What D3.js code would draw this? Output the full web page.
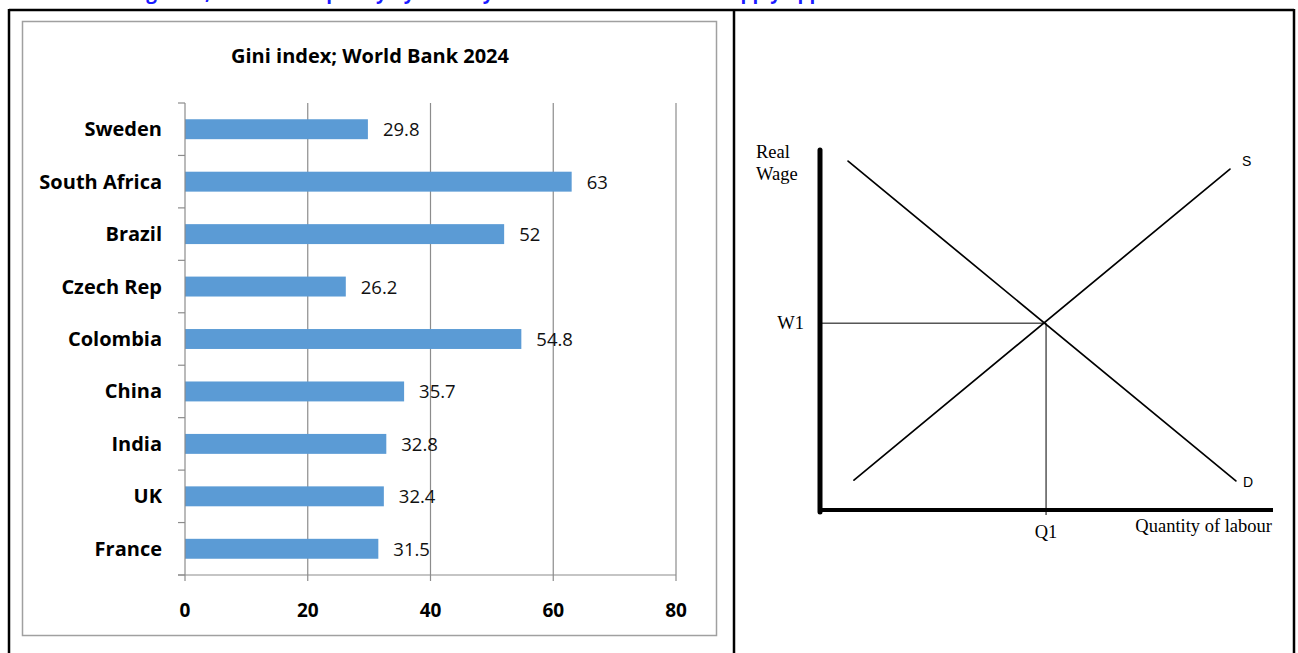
<!DOCTYPE html>
<html>
<head>
<meta charset="utf-8">
<script src="https://cdn.jsdelivr.net/npm/d3@7"></script>
<style>
  body { margin: 0; background: #fff; }
  svg { display: block; }
</style>
</head>
<body>
<svg id="page" width="1298" height="653"></svg>
<script>
// Gini chart data
const countries = ["Sweden", "South Africa", "Brazil", "Czech Rep", "Colombia", "China", "India", "UK", "France"];
const giniValues = [29.8, 63, 52, 26.2, 54.8, 35.7, 32.8, 32.4, 31.5];
const giniTicks = [0, 20, 40, 60, 80];

// Labour market diagram data (quantity, wage) in abstract units
const demandLine = [[0.62, 9.69], [9.18, 0.81]];
const supplyLine = [[0.75, 0.83], [9.05, 9.47]];
const equilibrium = [4.99, 5.19];

const svg = d3.select("#page");
const sans = "'Open Sans', sans-serif";
const serif = "'Liberation Serif', 'Times New Roman', serif";

// caption cut off at the top of the page
svg.append("text")
  .attr("x", 130)
  .attr("y", -1)
  .attr("font-family", sans)
  .attr("font-weight", "bold")
  .attr("font-size", 19)
  .attr("fill", "#1a1aff")
  .text("Figure 1, Income inequality by country and the labour market supply approach");

// table borders
const borders = [
  [9, 10, 1294, 10],
  [9, 9, 9, 653],
  [734, 10, 734, 653],
  [1294, 9, 1294, 653]
];
svg.selectAll("line.border")
  .data(borders)
  .enter()
  .append("line")
  .attr("class", "border")
  .attr("x1", d => d[0]).attr("y1", d => d[1])
  .attr("x2", d => d[2]).attr("y2", d => d[3])
  .attr("stroke", "#000")
  .attr("stroke-width", 2.5);

// ---------- Left: Gini bar chart ----------
svg.append("rect")
  .attr("x", 22.5).attr("y", 21.5)
  .attr("width", 694).attr("height", 614)
  .attr("fill", "none")
  .attr("stroke", "#a0a0a0")
  .attr("stroke-width", 1.5);

svg.append("text")
  .attr("x", 370).attr("y", 63)
  .attr("text-anchor", "middle")
  .attr("font-family", sans)
  .attr("font-weight", "bold")
  .attr("font-size", 20)
  .text("Gini index; World Bank 2024");

const plot = { left: 185, right: 676, top: 103, bottom: 575 };

const x = d3.scaleLinear().domain([0, 80]).range([plot.left, plot.right]);
const y = d3.scaleBand().domain(countries).range([plot.top, plot.bottom]).paddingInner(0.62).paddingOuter(0.31);
const yEdges = d3.scaleLinear().domain([0, countries.length]).range([plot.top, plot.bottom]);

const chart = svg.append("g");

// gridlines
chart.selectAll("line.grid")
  .data(giniTicks.slice(1))
  .enter()
  .append("line")
  .attr("x1", d => x(d)).attr("x2", d => x(d))
  .attr("y1", plot.top).attr("y2", plot.bottom + 6)
  .attr("stroke", "#8c8c8c")
  .attr("stroke-width", 1.2);

// bars
chart.selectAll("rect.bar")
  .data(giniValues)
  .enter()
  .append("rect")
  .attr("x", x(0))
  .attr("y", (d, i) => y(countries[i]))
  .attr("width", d => x(d) - x(0))
  .attr("height", y.bandwidth())
  .attr("fill", "#5b9bd5");

// value labels
chart.selectAll("text.val")
  .data(giniValues)
  .enter()
  .append("text")
  .attr("x", d => x(d) + 15)
  .attr("y", (d, i) => y(countries[i]) + y.bandwidth() / 2 + 7)
  .attr("font-family", sans)
  .attr("font-size", 18.5)
  .attr("fill", "#111")
  .text(d => d);

// y axis line and band ticks
chart.append("line")
  .attr("x1", plot.left).attr("x2", plot.left)
  .attr("y1", plot.top).attr("y2", plot.bottom + 6)
  .attr("stroke", "#8c8c8c").attr("stroke-width", 1.2);
chart.selectAll("line.ytick")
  .data(d3.range(countries.length + 1))
  .enter()
  .append("line")
  .attr("x1", plot.left - 7).attr("x2", plot.left)
  .attr("y1", d => yEdges(d)).attr("y2", d => yEdges(d))
  .attr("stroke", "#8c8c8c").attr("stroke-width", 1.2);

// x axis line
chart.append("line")
  .attr("x1", plot.left - 7).attr("x2", plot.right)
  .attr("y1", plot.bottom).attr("y2", plot.bottom)
  .attr("stroke", "#8c8c8c").attr("stroke-width", 1.2);

// category labels
chart.selectAll("text.cat")
  .data(countries)
  .enter()
  .append("text")
  .attr("x", 162)
  .attr("y", d => y(d) + y.bandwidth() / 2 + 7)
  .attr("text-anchor", "end")
  .attr("font-family", sans)
  .attr("font-weight", "bold")
  .attr("font-size", 20)
  .text(d => d);

// x tick labels
chart.selectAll("text.xt")
  .data(giniTicks)
  .enter()
  .append("text")
  .attr("x", d => x(d))
  .attr("y", 617)
  .attr("text-anchor", "middle")
  .attr("font-family", sans)
  .attr("font-weight", "bold")
  .attr("font-size", 19)
  .text(d => d);

// ---------- Right: labour market diagram ----------
const qx = d3.scaleLinear().domain([0, 10]).range([820, 1273]);
const wy = d3.scaleLinear().domain([0, 10]).range([510, 150]);

const diag = svg.append("g");

// axes
diag.append("line")
  .attr("x1", qx(0)).attr("x2", qx(0))
  .attr("y1", wy(10)).attr("y2", wy(0) + 2)
  .attr("stroke", "#000").attr("stroke-width", 5).attr("stroke-linecap", "round");
diag.append("line")
  .attr("x1", qx(0)).attr("x2", qx(10))
  .attr("y1", wy(0)).attr("y2", wy(0))
  .attr("stroke", "#000").attr("stroke-width", 4);

// W1 and Q1 guide lines
diag.append("line")
  .attr("x1", qx(0)).attr("x2", qx(equilibrium[0]))
  .attr("y1", wy(equilibrium[1])).attr("y2", wy(equilibrium[1]))
  .attr("stroke", "#000").attr("stroke-width", 1);
diag.append("line")
  .attr("x1", qx(equilibrium[0])).attr("x2", qx(equilibrium[0]))
  .attr("y1", wy(equilibrium[1])).attr("y2", wy(0) + 5)
  .attr("stroke", "#000").attr("stroke-width", 1);

// demand and supply curves
const lineGen = d3.line().x(d => qx(d[0])).y(d => wy(d[1]));
[demandLine, supplyLine].forEach(pts => {
  diag.append("path")
    .attr("d", lineGen(pts))
    .attr("fill", "none")
    .attr("stroke", "#000")
    .attr("stroke-width", 1.7)
    .attr("stroke-linecap", "round");
});

// labels
diag.append("text").attr("x", 756).attr("y", 158)
  .attr("font-family", serif).attr("font-size", 18.5).text("Real");
diag.append("text").attr("x", 756).attr("y", 180)
  .attr("font-family", serif).attr("font-size", 18.5).text("Wage");
diag.append("text").attr("x", 804).attr("y", wy(equilibrium[1]) + 6)
  .attr("text-anchor", "end")
  .attr("font-family", serif).attr("font-size", 18.5).text("W1");
diag.append("text").attr("x", qx(equilibrium[0])).attr("y", 538)
  .attr("text-anchor", "middle")
  .attr("font-family", serif).attr("font-size", 18.5).text("Q1");
diag.append("text").attr("x", 1272).attr("y", 532)
  .attr("text-anchor", "end")
  .attr("font-family", serif).attr("font-size", 18.5).text("Quantity of labour");
diag.append("text").attr("x", 1242).attr("y", 166)
  .attr("font-family", "'Liberation Sans', sans-serif").attr("font-size", 14).text("S");
diag.append("text").attr("x", 1243).attr("y", 487)
  .attr("font-family", "'Liberation Sans', sans-serif").attr("font-size", 14).text("D");
</script>
</body>
</html>
